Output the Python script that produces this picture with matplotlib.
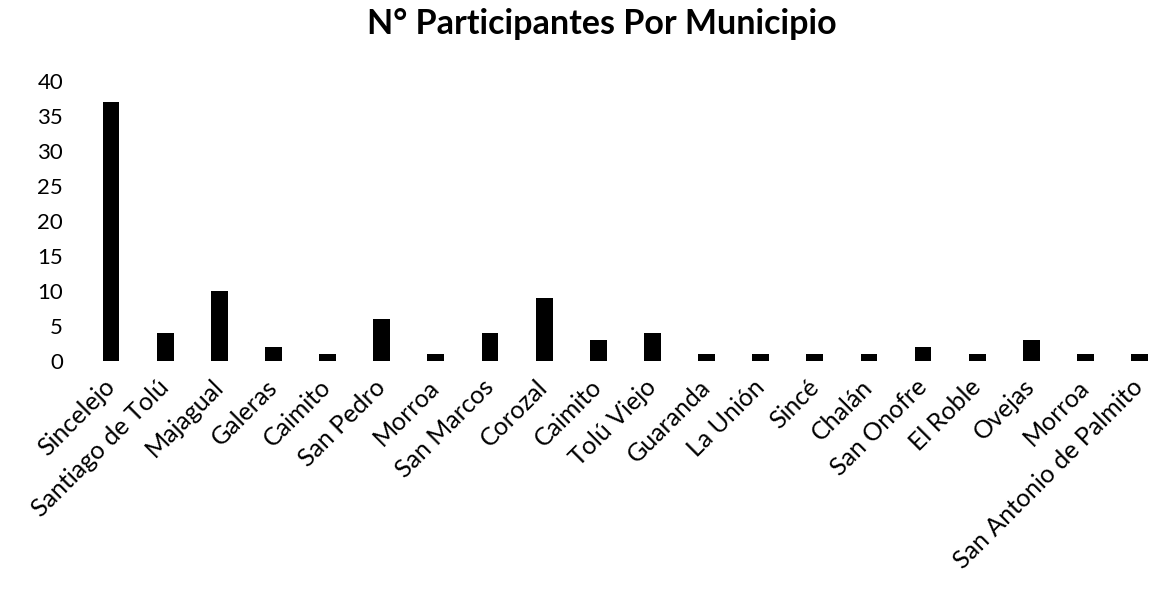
import matplotlib
matplotlib.use("Agg")
import matplotlib.pyplot as plt

municipios = ["Sincelejo", "Santiago de Tolú", "Majagual", "Galeras", "Caimito",
              "San Pedro", "Morroa", "San Marcos", "Corozal", "Caimito",
              "Tolú Viejo", "Guaranda", "La Unión", "Sincé", "Chalán",
              "San Onofre", "El Roble", "Ovejas", "Morroa", "San Antonio de Palmito"]
participantes = [37, 4, 10, 2, 1, 6, 1, 4, 9, 3, 4, 1, 1, 1, 1, 2, 1, 3, 1, 1]
yticks = [0, 5, 10, 15, 20, 25, 30, 35, 40]
titulo = "N° Participantes Por Municipio"

plt.rcParams['font.family'] = ['Lato', 'DejaVu Sans']

W, H = 1152, 597
fig = plt.figure(figsize=(W / 100, H / 100), dpi=100)
ax = fig.add_axes([84 / W, (H - 361) / H, (1152 - 84) / W, (361 - 80.7) / H])

x = list(range(len(municipios)))
ax.bar(x, participantes, width=0.31, color='black')
ax.set_xlim(-0.5, 19.23)
ax.set_ylim(0, 40)
ax.set_yticks(yticks)
ax.set_yticklabels([str(v) for v in yticks], fontsize=16)
ax.set_xticks(x)
ax.set_xticklabels(municipios, rotation=45, ha='right', va='center',
                   rotation_mode='anchor', fontsize=18)
ax.tick_params(axis='both', length=0)
ax.tick_params(axis='y', pad=15)
ax.tick_params(axis='x', pad=16)
for s in ax.spines.values():
    s.set_visible(False)

fig.text(602 / W, 1 - 24 / H, titulo, ha='center', va='center',
         fontsize=24.5, fontweight='bold')

fig.savefig("out.png", dpi=100)
